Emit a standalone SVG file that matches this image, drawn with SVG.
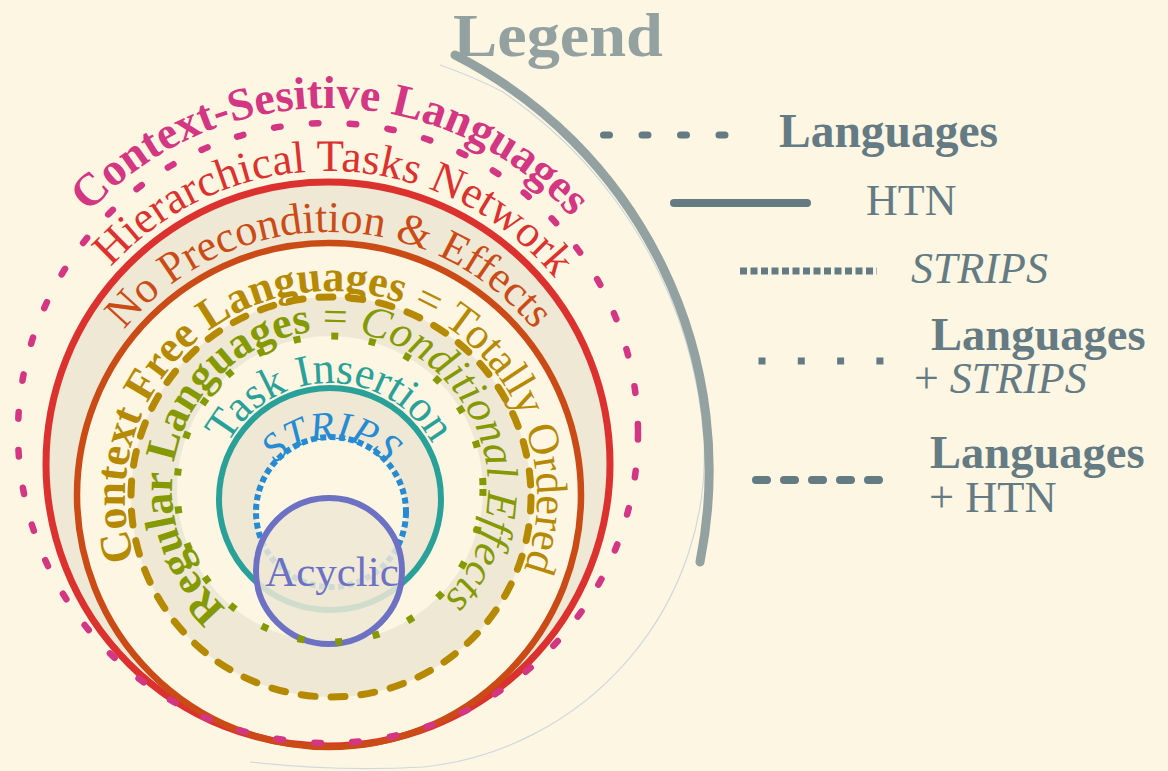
<svg xmlns="http://www.w3.org/2000/svg" xmlns:xlink="http://www.w3.org/1999/xlink" width="1168" height="771" viewBox="0 0 1168 771">
<defs>
<style>
.f{font-family:'Liberation Serif','Times New Roman',serif}
.b{font-weight:bold}
.i{font-style:italic}
.ring{fill:none}
.lg{fill:#657b83}
.ll{fill:none;stroke:#657b83}
</style>
<path id="pPink" d="M328,758 A325,325 0 1,1 328,108 A325,325 0 1,1 328,758"/>
<path id="pRed" d="M328,757 A293,293 0 1,1 328,171 A293,293 0 1,1 328,757"/>
<path id="pOrange" d="M329,758 A263,263 0 1,1 329,232 A263,263 0 1,1 329,758"/>
<path id="pGold" d="M331,703 A206,206 0 1,1 331,291 A206,206 0 1,1 331,703"/>
<path id="pOlive" d="M330,647 A158,158 0 1,1 330,331 A158,158 0 1,1 330,647"/>
<path id="pTeal" d="M330,615 A116,116 0 1,1 330,383 A116,116 0 1,1 330,615"/>
<path id="pBlue" d="M331,585 A73,73 0 1,1 331,439 A73,73 0 1,1 331,585"/>
</defs>
<rect width="1168" height="771" fill="#fdf6e3"/>

<g id="connectors">
<path d="M440,65 Q472,76 503,92 A462,462 0 0,1 704,440 A314,314 0 0,1 423,767 Q340,772 250,762" fill="none" stroke="#cfd9dc" stroke-width="1.2"/>
<path d="M455,55 A466,466 0 0,1 700,562" fill="none" stroke="#93a1a1" stroke-width="9" stroke-linecap="round"/>
</g>

<g id="bands">
<circle cx="328" cy="464" r="282" fill="#eee8d5"/>
<circle cx="329" cy="495" r="252" fill="#fdf6e3"/>
<circle cx="331" cy="497" r="200" fill="#eee8d5"/>
<circle cx="330" cy="489" r="153" fill="#fdf6e3"/>
<circle cx="330" cy="499" r="111" fill="#eee8d5"/>
<circle cx="331" cy="512" r="75" fill="#fdf6e3"/>
</g>

<g id="htn">
<circle class="ring" cx="328" cy="464" r="282" stroke="#dc322f" stroke-width="7"/>
<text class="f" font-size="45" fill="#dc322f" text-anchor="middle"><textPath href="#pRed" xlink:href="#pRed" startOffset="50.4%">Hierarchical Tasks Network</textPath></text>
</g>

<g id="no-precondition">
<circle class="ring" cx="329" cy="495" r="252" stroke="#cb4b16" stroke-width="6.5"/>
<text class="f" font-size="44" fill="#cb4b16" text-anchor="middle"><textPath href="#pOrange" xlink:href="#pOrange" startOffset="50%">No Precondition &amp; Effects</textPath></text>
</g>

<g id="context-free">
<circle class="ring" cx="331" cy="497" r="200" stroke="#b58900" stroke-width="7" stroke-dasharray="14 16" stroke-linecap="round"/>
<text class="f" font-size="44" fill="#b58900" text-anchor="middle"><textPath href="#pGold" xlink:href="#pGold" startOffset="50.4%"><tspan class="b">Context Free Languages</tspan> = Totally Ordered</textPath></text>
</g>

<g id="task-insertion">
<circle class="ring" cx="330" cy="499" r="111" stroke="#2aa198" stroke-width="6"/>
<text class="f" font-size="44" fill="#2aa198" text-anchor="middle"><textPath href="#pTeal" xlink:href="#pTeal" startOffset="50%">Task Insertion</textPath></text>
</g>

<g id="strips">
<circle class="ring" cx="331" cy="512" r="75" stroke="#268bd2" stroke-width="6" stroke-dasharray="6 3.5"/>
<text class="f i" font-size="40" fill="#268bd2" text-anchor="middle"><textPath href="#pBlue" xlink:href="#pBlue" startOffset="50%">STRIPS</textPath></text>
</g>

<g id="acyclic">
<circle cx="329" cy="571" r="73" fill="#eee8d5" fill-opacity="0.85" stroke="#6c71c4" stroke-width="6"/>
<text class="f" x="332" y="586" font-size="43" fill="#6c71c4" text-anchor="middle">Acyclic</text>
</g>

<g id="regular">
<circle class="ring" cx="330" cy="489" r="153" stroke="#859900" stroke-width="7" stroke-dasharray="7 31"/>
<text class="f" font-size="44" fill="#859900" text-anchor="middle"><textPath href="#pOlive" xlink:href="#pOlive" startOffset="49.3%"><tspan class="b">Regular Languages</tspan> = <tspan class="i">Conditional Effects</tspan></textPath></text>
</g>

<g id="context-sensitive">
<circle class="ring" cx="328" cy="433" r="310" stroke="#d33682" stroke-width="6.5" stroke-dasharray="6.5 31.5" stroke-linecap="round"/>
<text class="f b" font-size="46" fill="#d33682" text-anchor="middle"><textPath href="#pPink" xlink:href="#pPink" startOffset="50.15%">Context-Sesitive Languages</textPath></text>
</g>

<g id="legend">
<text class="f b" x="453" y="56" font-size="62" fill="#93a1a1" textLength="210" lengthAdjust="spacingAndGlyphs">Legend</text>
<g id="legend-languages">
<path class="ll" d="M603.5,135 H726" stroke-width="7" stroke-linecap="round" stroke-dasharray="6 32.5"/>
<text class="f b lg" x="779" y="147" font-size="47.5">Languages</text>
</g>
<g id="legend-htn">
<path class="ll" d="M674,203 H807" stroke-width="8" stroke-linecap="round"/>
<text class="f lg" x="866" y="215" font-size="44">HTN</text>
</g>
<g id="legend-strips">
<path class="ll" d="M740,271 H877" stroke-width="7" stroke-dasharray="7 3.5"/>
<text class="f i lg" x="911" y="283" font-size="44">STRIPS</text>
</g>
<g id="legend-lang-strips">
<path class="ll" d="M758.5,361 H888" stroke-width="7" stroke-dasharray="7 32.3"/>
<text class="f b lg" x="931" y="350" font-size="46.5">Languages</text>
<text class="f lg" x="914" y="393" font-size="44">+ <tspan class="i">STRIPS</tspan></text>
</g>
<g id="legend-lang-htn">
<path class="ll" d="M756,480 H879" stroke-width="8" stroke-linecap="round" stroke-dasharray="11 17"/>
<text class="f b lg" x="930" y="468" font-size="46.5">Languages</text>
<text class="f lg" x="929" y="512" font-size="44.5">+ HTN</text>
</g>
</g>
</svg>
